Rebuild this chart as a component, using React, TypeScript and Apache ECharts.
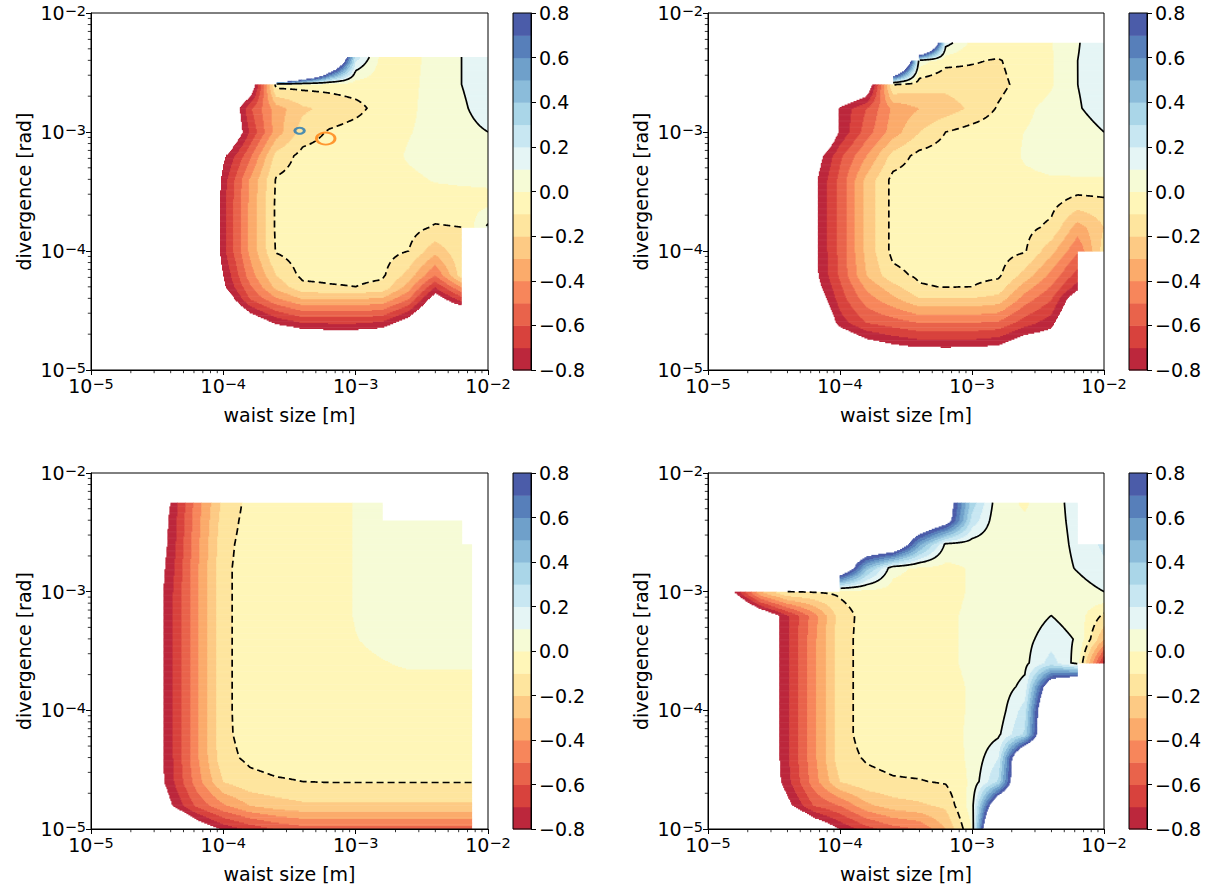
import React, { useEffect, useRef } from 'react';
import * as echarts from 'echarts';

const FONT = '"DejaVu Sans", Lato, sans-serif';
const _ = null;

// contour levels and band colours (RdYlBu, 16 bands)
const LEVELS = [-0.8, -0.7, -0.6, -0.5, -0.4, -0.3, -0.2, -0.1, 0, 0.1, 0.2, 0.3, 0.4, 0.5, 0.6, 0.7, 0.8];
const BAND_COLORS = ['#bc273c', '#d8423d', '#e9634b', '#f7865b', '#fbab6b', '#fdca84', '#fee59e', '#fff6b8',
  '#f6fbd6', '#e5f5f5', '#c8e7f2', '#aad6e8', '#8bbcda', '#6fa0ca', '#577fba', '#4b5ca9'];
const DASHED_LEVEL = -0.1;
const SOLID_LEVEL = 0.1;

const X_MIN = 1e-5, X_MAX = 1e-2, Y_MIN = 1e-5, Y_MAX = 1e-2;
const X_NAME = 'waist size [m]';
const Y_NAME = 'divergence [rad]';
// log-axis minor tick positions
const MINOR_TICKS = [2e-5, 3e-5, 4e-5, 5e-5, 6e-5, 7e-5, 8e-5, 9e-5,
  2e-4, 3e-4, 4e-4, 5e-4, 6e-4, 7e-4, 8e-4, 9e-4,
  2e-3, 3e-3, 4e-3, 5e-3, 6e-3, 7e-3, 8e-3, 9e-3];

// marker ellipses (panel 1)
const MARKER_BLUE = [[3.77e-4, 1.025e-3]];
const MARKER_ORANGE = [[5.94e-4, 8.81e-4]];

// ---- panel 1 (log10 grid, rows from top to bottom) ----
const P1_X = [-5.0, -4.8, -4.6, -4.4, -4.2, -4.0, -3.8, -3.6, -3.4, -3.2, -3.0, -2.8, -2.6, -2.4, -2.2, -2.0];
const P1_Y = [-2.37, -2.6, -2.8, -3.0, -3.2, -3.4, -3.6, -3.8, -4.0, -4.2, -4.3, -4.4, -4.6, -4.8, -5.0];
const P1_Z = [
  [_, _, _, _, _, _, _, 10, 4.7, 1.94, 0.25, -0.04, -0.02, 0.02, 0.1, 0.18],
  [-1.5, -1.5, -1.5, -1.5, -1.5, -1.3, -1.0, -0.05, -0.06, -0.06, -0.05, -0.05, -0.02, 0.03, 0.1, 0.17],
  [-1.5, -1.5, -1.5, -1.5, -1.5, -1.1, -0.62, -0.35, -0.22, -0.17, -0.13, -0.06, -0.02, 0.04, 0.08, 0.16],
  [-1.5, -1.5, -1.5, -1.5, -1.5, -1.1, -0.69, -0.35, -0.15, -0.09, -0.06, -0.04, -0.005, 0.03, 0.06, 0.1],
  [-1.5, -1.5, -1.5, -1.5, -1.3, -0.83, -0.52, -0.16, -0.07, -0.06, -0.05, -0.04, 0.01, 0.04, 0.05, 0.06],
  [-1.5, -1.5, -1.5, -1.5, -1.3, -0.75, -0.39, -0.09, -0.06, -0.05, -0.05, -0.05, -0.02, 0.005, 0.01, 0.01],
  [-1.5, -1.5, -1.5, -1.5, -1.3, -0.73, -0.38, -0.08, -0.05, -0.05, -0.05, -0.05, -0.04, -0.04, -0.03, -0.02],
  [-1.5, -1.5, -1.5, -1.5, -1.3, -0.73, -0.38, -0.08, -0.05, -0.05, -0.05, -0.05, -0.06, -0.11, -0.1, 0.12],
  [-1.5, -1.5, -1.5, -1.5, -1.3, -0.73, -0.38, -0.09, -0.05, -0.05, -0.05, -0.06, -0.1, -0.27, -0.12, _],
  [-1.5, -1.5, -1.5, -1.5, -1.2, -0.8, -0.45, -0.2, -0.07, -0.07, -0.07, -0.08, -0.24, -0.5, -0.15, _],
  [-1.5, -1.5, -1.5, -1.5, -1.25, -0.83, -0.52, -0.27, -0.13, -0.11, -0.1, -0.13, -0.35, -0.7, -0.4, _],
  [-1.5, -1.5, -1.5, -1.5, -1.3, -0.95, -0.6, -0.42, -0.3, -0.3, -0.3, -0.32, -0.5, -0.9, -0.65, _],
  [-1.5, -1.5, -1.5, -1.5, -1.5, -1.2, -0.95, -0.78, -0.7, -0.69, -0.69, -0.72, -0.9, -1.2, -1.2, _],
  [-1.5, -1.5, -1.5, -1.5, -1.5, -1.5, -1.3, -1.2, -1.1, -1.08, -1.08, -1.1, -1.3, -1.5, -1.5, _],
  [-1.5, -1.5, -1.5, -1.5, -1.5, -1.5, -1.5, -1.5, -1.5, -1.5, -1.5, -1.5, -1.5, -1.5, -1.5, _],
];

// ---- panel 2 ----
const P2_X = [-5.0, -4.8, -4.6, -4.4, -4.2, -4.0, -3.8, -3.6, -3.4, -3.2, -3.0, -2.8, -2.6, -2.4, -2.2, -2.0];
const P2_Y = [-2.25, -2.4, -2.6, -2.8, -3.0, -3.2, -3.4, -3.6, -3.8, -4.0, -4.2, -4.3, -4.4, -4.6, -4.8, -5.0];
const P2_Z = [
  [_, _, _, _, _, _, _, _, 2.5, 0.15, -0.03, -0.02, -0.02, -0.005, 0.09, 0.2],
  [_, _, _, _, _, _, _, 2.5, 0.05, -0.07, -0.09, -0.11, -0.04, -0.01, 0.1, 0.18],
  [-1.5, -1.5, -1.5, -1.5, -1.5, -1.2, -1.0, -0.09, -0.15, -0.17, -0.15, -0.13, -0.06, -0.01, 0.1, 0.15],
  [-1.5, -1.5, -1.5, -1.5, -1.2, -0.78, -0.6, -0.38, -0.3, -0.25, -0.18, -0.09, -0.02, 0.03, 0.09, 0.15],
  [-1.5, -1.5, -1.5, -1.5, -1.2, -0.78, -0.55, -0.35, -0.2, -0.1, -0.06, -0.04, 0.002, 0.03, 0.05, 0.1],
  [-1.5, -1.5, -1.5, -1.5, -0.9, -0.62, -0.4, -0.16, -0.07, -0.05, -0.05, -0.05, 0.01, 0.04, 0.05, 0.06],
  [-1.5, -1.5, -1.5, -1.5, -0.84, -0.57, -0.27, -0.07, -0.05, -0.05, -0.05, -0.05, -0.02, -0.01, -0.01, -0.01],
  [-1.5, -1.5, -1.5, -1.5, -0.84, -0.57, -0.27, -0.07, -0.05, -0.05, -0.05, -0.05, -0.05, -0.07, -0.15, -0.13],
  [-1.5, -1.5, -1.5, -1.5, -0.84, -0.57, -0.27, -0.07, -0.05, -0.05, -0.05, -0.05, -0.07, -0.12, -0.35, -0.2],
  [-1.5, -1.5, -1.5, -1.5, -0.84, -0.57, -0.27, -0.07, -0.05, -0.05, -0.05, -0.06, -0.09, -0.27, -0.49, -0.15],
  [-1.5, -1.5, -1.5, -1.5, -0.85, -0.58, -0.3, -0.13, -0.08, -0.07, -0.07, -0.08, -0.24, -0.43, -0.65, _],
  [-1.5, -1.5, -1.5, -1.5, -0.88, -0.62, -0.38, -0.24, -0.11, -0.095, -0.1, -0.14, -0.35, -0.51, -0.75, _],
  [-1.5, -1.5, -1.5, -1.5, -0.95, -0.65, -0.45, -0.33, -0.21, -0.21, -0.21, -0.24, -0.45, -0.59, -0.95, _],
  [-1.5, -1.5, -1.5, -1.5, -1.1, -0.75, -0.6, -0.55, -0.5, -0.5, -0.5, -0.52, -0.65, -0.76, -1.1, _],
  [-1.5, -1.5, -1.5, -1.5, -1.3, -1.05, -0.9, -0.83, -0.79, -0.78, -0.79, -0.82, -0.95, -0.95, -1.2, _],
  [-1.5, -1.5, -1.5, -1.5, -1.5, -1.5, -1.5, -1.5, -1.5, -1.5, -1.5, -1.5, -1.5, -1.5, -1.5, _],
];

// ---- panel 3 ----
const P3_X = [-5.0, -4.8, -4.6, -4.4, -4.2, -4.0, -3.8, -3.6, -3.4, -3.2, -3.0, -2.8, -2.6, -2.4, -2.2, -2.124];
const P3_Y = [-2.25, -2.4, -2.6, -2.8, -3.0, -3.2, -3.4, -3.6, -3.8, -4.0, -4.2, -4.4, -4.6, -4.8, -5.0];
const P3_Z = [
  [-1.5, -1.5, -1.05, -0.8, -0.45, -0.17, -0.07, -0.05, -0.05, -0.04, 0.005, 0.03, _, _, _, _],
  [-1.5, -1.5, -1.05, -0.78, -0.44, -0.15, -0.065, -0.05, -0.05, -0.04, 0.005, 0.03, 0.04, 0.04, 0.04, _],
  [-1.5, -1.5, -1.02, -0.77, -0.43, -0.13, -0.06, -0.05, -0.05, -0.04, 0.005, 0.03, 0.04, 0.04, 0.04, 0.04],
  [-1.5, -1.5, -1.0, -0.75, -0.42, -0.12, -0.06, -0.05, -0.05, -0.04, 0.005, 0.03, 0.04, 0.04, 0.04, 0.04],
  [-1.5, -1.5, -1.0, -0.73, -0.42, -0.12, -0.06, -0.05, -0.05, -0.04, 0.005, 0.03, 0.04, 0.04, 0.04, 0.04],
  [-1.5, -1.5, -1.0, -0.73, -0.42, -0.12, -0.06, -0.05, -0.05, -0.04, 0.005, 0.03, 0.04, 0.04, 0.04, 0.04],
  [-1.5, -1.5, -1.0, -0.73, -0.42, -0.12, -0.06, -0.05, -0.05, -0.04, -0.003, 0.02, 0.03, 0.03, 0.03, 0.03],
  [-1.5, -1.5, -1.0, -0.73, -0.42, -0.12, -0.06, -0.05, -0.05, -0.04, -0.02, -0.005, 0.01, 0.01, 0.01, 0.01],
  [-1.5, -1.5, -1.0, -0.73, -0.42, -0.12, -0.06, -0.05, -0.05, -0.05, -0.04, -0.03, -0.03, -0.03, -0.03, -0.03],
  [-1.5, -1.5, -1.0, -0.73, -0.42, -0.12, -0.06, -0.05, -0.05, -0.05, -0.05, -0.05, -0.05, -0.05, -0.05, -0.05],
  [-1.5, -1.5, -1.0, -0.73, -0.42, -0.12, -0.065, -0.05, -0.05, -0.05, -0.05, -0.05, -0.05, -0.05, -0.05, -0.05],
  [-1.5, -1.5, -1.0, -0.73, -0.42, -0.13, -0.08, -0.06, -0.06, -0.06, -0.06, -0.06, -0.06, -0.06, -0.06, -0.06],
  [-1.5, -1.5, -1.0, -0.74, -0.45, -0.2, -0.13, -0.11, -0.1, -0.095, -0.095, -0.095, -0.095, -0.095, -0.095, -0.095],
  [-1.5, -1.5, -1.1, -0.82, -0.58, -0.42, -0.3, -0.25, -0.22, -0.22, -0.22, -0.22, -0.22, -0.22, -0.22, -0.22],
  [-1.5, -1.5, -1.4, -1.2, -0.95, -0.78, -0.68, -0.6, -0.55, -0.55, -0.55, -0.55, -0.55, -0.55, -0.55, -0.55],
];

// ---- panel 4 ----
const P4_X = [-5.0, -4.8, -4.6, -4.4, -4.2, -4.0, -3.8, -3.6, -3.4, -3.2, -3.0, -2.8, -2.6, -2.4, -2.2, -2.0];
const P4_Y = [-2.25, -2.4, -2.6, -2.8, -3.0, -3.2, -3.4, -3.6, -3.8, -4.0, -4.2, -4.4, -4.6, -4.8, -5.0];
const P4_Z = [
  [_, _, _, _, _, _, _, 1.2, 1.2, 1.0, 0.35, 0.03, -0.01, 0.05, 0.15, _],
  [_, _, _, _, _, _, _, 1.2, 1.2, 0.96, 0.26, 0.02, 0.01, 0.05, 0.14, _],
  [_, _, _, _, _, 1.2, 1.2, 1.2, 0.53, 0.08, 0.05, 0.03, 0.03, 0.04, 0.13, 0.22],
  [_, _, _, _, _, 1.2, 0.44, 0.03, -0.02, -0.03, 0.01, 0.03, 0.04, 0.04, 0.11, 0.18],
  [-1.2, -0.8, -0.3, -0.1, -0.09, -0.08, -0.04, -0.04, -0.04, -0.03, 0.01, 0.03, 0.05, 0.05, 0.05, 0.1],
  [-1.5, -1.3, -1.0, -0.72, -0.45, -0.15, -0.06, -0.04, -0.03, -0.02, 0.02, 0.03, 0.05, 0.1, 0.05, -0.12],
  [-1.5, -1.5, -1.0, -0.72, -0.43, -0.14, -0.06, -0.05, -0.04, -0.02, 0.02, 0.04, 0.07, 0.15, 0.09, -0.3],
  [-1.5, -1.5, -1.0, -0.72, -0.43, -0.14, -0.06, -0.05, -0.04, -0.02, 0.02, 0.04, 0.07, 0.25, 0.05, -0.75],
  [-1.5, -1.5, -1.0, -0.72, -0.43, -0.14, -0.06, -0.05, -0.04, -0.03, 0.01, 0.04, 0.13, 1.1, 1.4, _],
  [-1.5, -1.5, -1.0, -0.72, -0.43, -0.14, -0.06, -0.05, -0.04, -0.03, 0.01, 0.04, 0.25, 1.4, 1.4, _],
  [-1.5, -1.5, -1.0, -0.72, -0.43, -0.14, -0.06, -0.05, -0.05, -0.04, 0.02, 0.08, 0.32, 1.4, 1.4, _],
  [-1.5, -1.5, -1.0, -0.72, -0.43, -0.14, -0.09, -0.07, -0.06, -0.05, 0.02, 0.2, 1.4, 1.4, 1.4, _],
  [-1.5, -1.5, -1.0, -0.74, -0.45, -0.2, -0.13, -0.11, -0.105, -0.09, 0.02, 0.32, 1.4, 1.4, 1.4, _],
  [-1.5, -1.5, -1.1, -0.85, -0.6, -0.5, -0.33, -0.25, -0.22, -0.18, 0.05, 1.2, 1.4, 1.4, 1.4, _],
  [-1.5, -1.5, -1.4, -1.3, -1.0, -0.8, -0.65, -0.55, -0.5, -0.3, 0.0, 2.0, 1.4, 1.4, 1.4, _],
];

const PANELS = [
  { xs: P1_X, ys: P1_Y, z: P1_Z },
  { xs: P2_X, ys: P2_Y, z: P2_Z },
  { xs: P3_X, ys: P3_Y, z: P3_Z },
  { xs: P4_X, ys: P4_Y, z: P4_Z },
];

// layout (pixels)
const PLOT_BOXES = [
  { left: 91, top: 13, width: 397, height: 357 },
  { left: 708, top: 13, width: 396, height: 357 },
  { left: 91, top: 473, width: 397, height: 356 },
  { left: 708, top: 473, width: 396, height: 356 },
];
const CB_BOXES = [
  { left: 513, top: 13, width: 18, height: 357 },
  { left: 1129, top: 13, width: 18, height: 357 },
  { left: 513, top: 473, width: 18, height: 356 },
  { left: 1129, top: 473, width: 18, height: 356 },
];

type G = { xs: number[]; ys: number[]; z: (number | null)[][] };

function prepare(g: G): G {
  return { xs: g.xs, ys: g.ys.slice().reverse(), z: g.z.slice().reverse() };
}

function cellIndex(arr: number[], v: number) {
  const n = arr.length;
  if (v < arr[0] - 1e-9 || v > arr[n - 1] + 1e-9) return -1;
  for (let k = 0; k < n - 2; k++) if (v <= arr[k + 1]) return k;
  return n - 2;
}

function sample(g: G, lx: number, ly: number): number | null {
  const i = cellIndex(g.xs, lx), j = cellIndex(g.ys, ly);
  if (i < 0 || j < 0) return null;
  const a = g.z[j][i], b = g.z[j][i + 1], c = g.z[j + 1][i + 1], d = g.z[j + 1][i];
  if (a == null || b == null || c == null || d == null) return null;
  let tx = (lx - g.xs[i]) / (g.xs[i + 1] - g.xs[i]);
  let ty = (ly - g.ys[j]) / (g.ys[j + 1] - g.ys[j]);
  tx = Math.min(1, Math.max(0, tx));
  ty = Math.min(1, Math.max(0, ty));
  return a * (1 - tx) * (1 - ty) + b * tx * (1 - ty) + c * tx * ty + d * (1 - tx) * ty;
}

function bandOf(v: number | null) {
  if (v == null || v < LEVELS[0] || v >= LEVELS[LEVELS.length - 1]) return -1;
  let k = 0;
  while (k < LEVELS.length - 2 && v >= LEVELS[k + 1]) k++;
  return k;
}

function lattice(g: G) {
  const x0 = g.xs[0], x1 = g.xs[g.xs.length - 1], y0 = g.ys[0], y1 = g.ys[g.ys.length - 1];
  const nx = Math.max(1, Math.round((x1 - x0) / 0.0075));
  const ny = Math.max(1, Math.round((y1 - y0) / 0.01));
  return { x0, y0, nx, ny, dx: (x1 - x0) / nx, dy: (y1 - y0) / ny };
}

function rasterize(g: G) {
  const { x0, y0, nx, ny, dx, dy } = lattice(g);
  const runs: number[][] = [];
  for (let j = 0; j < ny; j++) {
    const ya = y0 + j * dy, yb = ya + dy, yc = ya + dy / 2;
    let cur = -1, start = 0;
    for (let i = 0; i <= nx; i++) {
      const band = i < nx ? bandOf(sample(g, x0 + (i + 0.5) * dx, yc)) : -1;
      if (band !== cur) {
        if (cur >= 0) runs.push([Math.pow(10, x0 + start * dx), Math.pow(10, x0 + i * dx), Math.pow(10, ya), Math.pow(10, yb), cur]);
        cur = band;
        start = i;
      }
    }
  }
  return runs;
}

function contourLines(g: G, level: number) {
  const { x0, y0, nx, ny, dx, dy } = lattice(g);
  const V: (number | null)[][] = [];
  for (let j = 0; j <= ny; j++) {
    const row: (number | null)[] = [];
    for (let i = 0; i <= nx; i++) row.push(sample(g, x0 + i * dx, y0 + j * dy));
    V.push(row);
  }
  const pts = new Map<string, number[]>();
  const segs: string[][] = [];
  const ep = (key: string, xa: number, ya: number, va: number, xb: number, yb: number, vb: number) => {
    if (!pts.has(key)) {
      const t = (level - va) / (vb - va);
      pts.set(key, [xa + t * (xb - xa), ya + t * (yb - ya)]);
    }
    return key;
  };
  for (let j = 0; j < ny; j++) {
    for (let i = 0; i < nx; i++) {
      const a = V[j][i], b = V[j][i + 1], c = V[j + 1][i + 1], d = V[j + 1][i];
      if (a == null || b == null || c == null || d == null) continue;
      const xa = x0 + i * dx, xb = xa + dx, ya = y0 + j * dy, yb = ya + dy;
      const A = a >= level, B = b >= level, C = c >= level, D = d >= level;
      const e: (string | null)[] = [null, null, null, null];
      if (A !== B) e[0] = ep(`h${i}_${j}`, xa, ya, a, xb, ya, b);
      if (B !== C) e[1] = ep(`v${i + 1}_${j}`, xb, ya, b, xb, yb, c);
      if (D !== C) e[2] = ep(`h${i}_${j + 1}`, xa, yb, d, xb, yb, c);
      if (A !== D) e[3] = ep(`v${i}_${j}`, xa, ya, a, xa, yb, d);
      const cr = e.filter((k) => k != null) as string[];
      if (cr.length === 2) segs.push([cr[0], cr[1]]);
      else if (cr.length === 4) {
        const center = (a + b + c + d) / 4 >= level;
        if (A === center) { segs.push([e[0]!, e[1]!]); segs.push([e[2]!, e[3]!]); }
        else { segs.push([e[0]!, e[3]!]); segs.push([e[1]!, e[2]!]); }
      }
    }
  }
  const adj = new Map<string, number[]>();
  segs.forEach((s, idx) => s.forEach((k) => {
    let l = adj.get(k);
    if (!l) { l = []; adj.set(k, l); }
    l.push(idx);
  }));
  const used = new Uint8Array(segs.length);
  const walk = (key: string) => {
    const out: string[] = [];
    let cur = key;
    for (;;) {
      const l = adj.get(cur) || [];
      let next = -1;
      for (const s of l) if (!used[s]) { next = s; break; }
      if (next < 0) break;
      used[next] = 1;
      const [p, q] = segs[next];
      cur = p === cur ? q : p;
      out.push(cur);
    }
    return out;
  };
  const lines: number[][][] = [];
  for (let s = 0; s < segs.length; s++) {
    if (used[s]) continue;
    used[s] = 1;
    const fwd = walk(segs[s][1]);
    const bwd = walk(segs[s][0]);
    const keys = [...bwd.reverse(), segs[s][0], segs[s][1], ...fwd];
    if (keys.length < 3) continue;
    lines.push(keys.map((k) => {
      const p = pts.get(k)!;
      return [Math.pow(10, p[0]), Math.pow(10, p[1])];
    }));
  }
  return lines;
}

const logLabel = (v: number) => {
  const e = Math.round(Math.log10(v));
  return `{b|10}{s|\u2212${Math.abs(e)}}`;
};
const RICH = {
  b: { fontSize: 19, lineHeight: 19, verticalAlign: 'bottom', fontFamily: FONT, color: '#000' },
  s: { fontSize: 14.5, lineHeight: 15, padding: [0, 0, 6, 0], verticalAlign: 'top', fontFamily: FONT, color: '#000' },
};
const cbLabel = (v: number) => {
  const s = (Math.abs(v) < 1e-9 ? 0 : v).toFixed(1);
  return s.replace('-', '\u2212');
};

function buildOption() {
  const grid: any[] = [], xAxis: any[] = [], yAxis: any[] = [], series: any[] = [];
  const axisLine = { show: true, onZero: false, lineStyle: { color: '#000', width: 1 } };
  const axisTick = { show: true, inside: false, length: 5, lineStyle: { color: '#000', width: 1 } };
  const nameStyle = { fontSize: 19, fontFamily: FONT, color: '#000' };
  const cbData = LEVELS.slice(0, -1).map((lo, k) => [0, 1, lo, LEVELS[k + 1], k]);

  PANELS.forEach((raw, k) => {
    const g = prepare(raw as G);
    const gi = 2 * k, ci = 2 * k + 1;
    grid.push({ ...PLOT_BOXES[k], show: true, borderColor: '#000', borderWidth: 1, backgroundColor: 'transparent', z: 6 });
    grid.push({ ...CB_BOXES[k], show: true, borderColor: '#000', borderWidth: 1, backgroundColor: 'transparent', z: 6 });
    xAxis.push({
      type: 'log', logBase: 10, gridIndex: gi, min: X_MIN, max: X_MAX, z: 6,
      name: X_NAME, nameLocation: 'middle', nameGap: 35, nameTextStyle: nameStyle,
      axisLine, axisTick, splitLine: { show: false },
      axisLabel: { formatter: logLabel, rich: RICH, margin: 6 },
    });
    yAxis.push({
      type: 'log', logBase: 10, gridIndex: gi, min: Y_MIN, max: Y_MAX, z: 6,
      name: Y_NAME, nameLocation: 'middle', nameGap: 58, nameTextStyle: nameStyle,
      axisLine, axisTick, splitLine: { show: false },
      axisLabel: { formatter: logLabel, rich: RICH, margin: 5 },
    });
    xAxis.push({ type: 'value', gridIndex: ci, min: 0, max: 1, show: false });
    yAxis.push({
      type: 'value', gridIndex: ci, min: -0.8, max: 0.8, interval: 0.2, position: 'right', z: 6,
      axisLine, axisTick, splitLine: { show: false },
      axisLabel: { formatter: cbLabel, fontSize: 19, fontFamily: FONT, color: '#000', margin: 8 },
    });

    const runs = rasterize(g);
    series.push({
      type: 'custom', xAxisIndex: gi, yAxisIndex: gi, z: 1, clip: true, silent: true,
      encode: { x: [0, 1], y: [2, 3] },
      data: runs,
      renderItem: (_p: any, api: any) => {
        const p0 = api.coord([api.value(0), api.value(2)]);
        const p1 = api.coord([api.value(1), api.value(3)]);
        return {
          type: 'rect',
          shape: { x: p0[0], y: p1[1], width: p1[0] - p0[0] + 0.5, height: p0[1] - p1[1] + 0.6 },
          style: { fill: BAND_COLORS[api.value(4)] },
        };
      },
    });

    [DASHED_LEVEL, SOLID_LEVEL].forEach((lvl) => {
      const lines = contourLines(g, lvl);
      series.push({
        type: 'custom', xAxisIndex: gi, yAxisIndex: gi, z: 3, clip: true, silent: true,
        encode: { x: 0, y: 1 },
        data: lines.map((pl, idx) => [pl[0][0], pl[0][1], idx]),
        renderItem: (_p: any, api: any) => {
          const pl = lines[api.value(2)];
          return {
            type: 'polyline',
            shape: { points: pl.map((p) => api.coord(p)) },
            style: { stroke: '#000', lineWidth: 1.7, fill: null, lineDash: lvl < 0 ? [7, 4] : null },
          };
        },
      });
    });

    // minor ticks of the log axes
    series.push({
      type: 'custom', xAxisIndex: gi, yAxisIndex: gi, z: 7, clip: false, silent: true,
      encode: { x: 0, y: 1 },
      data: MINOR_TICKS.map((v) => [v, Y_MIN]),
      renderItem: (_p: any, api: any) => {
        const p = api.coord([api.value(0), api.value(1)]);
        return { type: 'line', shape: { x1: p[0], y1: p[1], x2: p[0], y2: p[1] + 3.2 }, style: { stroke: '#000', lineWidth: 0.8 } };
      },
    });
    series.push({
      type: 'custom', xAxisIndex: gi, yAxisIndex: gi, z: 7, clip: false, silent: true,
      encode: { x: 0, y: 1 },
      data: MINOR_TICKS.map((v) => [X_MIN, v]),
      renderItem: (_p: any, api: any) => {
        const p = api.coord([api.value(0), api.value(1)]);
        return { type: 'line', shape: { x1: p[0] - 3.2, y1: p[1], x2: p[0], y2: p[1] }, style: { stroke: '#000', lineWidth: 0.8 } };
      },
    });

    series.push({
      type: 'custom', xAxisIndex: ci, yAxisIndex: ci, z: 1, silent: true,
      encode: { x: [0, 1], y: [2, 3] },
      data: cbData,
      renderItem: (_p: any, api: any) => {
        const p0 = api.coord([api.value(0), api.value(2)]);
        const p1 = api.coord([api.value(1), api.value(3)]);
        return {
          type: 'rect',
          shape: { x: p0[0], y: p1[1], width: p1[0] - p0[0], height: p0[1] - p1[1] + 0.5 },
          style: { fill: BAND_COLORS[api.value(4)] },
        };
      },
    });
  });

  series.push({
    type: 'scatter', xAxisIndex: 0, yAxisIndex: 0, z: 5, silent: true,
    data: MARKER_BLUE, symbol: 'circle', symbolSize: [9.5, 6],
    itemStyle: { color: 'rgba(0,0,0,0)', borderColor: '#1f77b4', borderWidth: 2.4 },
  });
  series.push({
    type: 'scatter', xAxisIndex: 0, yAxisIndex: 0, z: 5, silent: true,
    data: MARKER_ORANGE, symbol: 'circle', symbolSize: [18.5, 12],
    itemStyle: { color: 'rgba(0,0,0,0)', borderColor: '#ff7f0e', borderWidth: 2.4 },
  });

  return {
    animation: false,
    backgroundColor: '#fff',
    textStyle: { fontFamily: FONT },
    grid, xAxis, yAxis, series,
  };
}

export default function App() {
  const ref = useRef<HTMLDivElement>(null);
  useEffect(() => {
    const chart = echarts.init(ref.current!, undefined, { renderer: 'svg' });
    chart.setOption(buildOption() as any);
    return () => chart.dispose();
  }, []);
  return (
    <div
      ref={ref}
      style={{ position: 'absolute', left: 0, top: 0, width: 1212, height: 892, background: '#fff' }}
    />
  );
}
